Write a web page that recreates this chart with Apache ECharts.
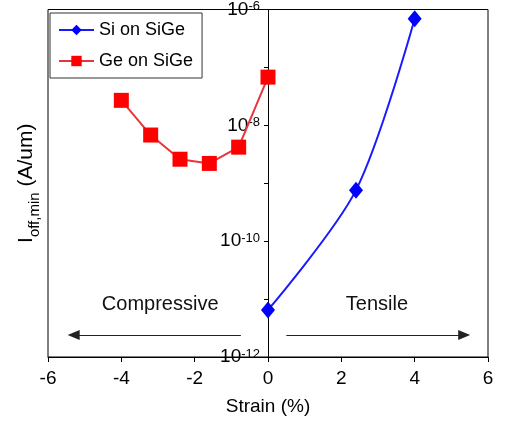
<!DOCTYPE html>
<html>
<head>
<meta charset="utf-8">
<script src="https://cdn.jsdelivr.net/npm/echarts@6/dist/echarts.min.js"></script>
<style>
  html, body { margin: 0; padding: 0; background: #fff; }
  #chart { width: 506px; height: 425px; }
</style>
</head>
<body>
<div id="chart"></div>
<script>
const myChart = echarts.init(document.getElementById("chart"));

// strain (%) vs minimum off-current (A/um)
const siStrain = [0, 2.4, 4];
const siIoff = [6.5e-12, 7.6e-10, 6.9e-7];
const geStrain = [-4, -3.2, -2.4, -1.6, -0.8, 0];
const geIoff = [2.7e-8, 6.8e-9, 2.6e-9, 2.2e-9, 4.2e-9, 6.8e-8];
const xTicks = [-6, -4, -2, 0, 2, 4, 6];

// annotation arrows and texts (data coords)
const arrowY = 2.4e-12;
const compressiveArrow = [-0.74, -5.3];
const tensileArrow = [0.5, 5.35];
const notes = [
    {name: "Compressive", x: -2.94, y: 8.1e-12},
    {name: "Tensile", x: 2.97, y: 8.1e-12}
];

const font = "Liberation Sans, Arial, sans-serif";
const gridLeft = 48;
const gridWidth = 440;

const option = {
    animation: false,
    textStyle: {
        fontFamily: font,
        color: "#000"
    },
    grid: {
        left: gridLeft,
        width: gridWidth,
        top: 8,
        bottom: 68,
        show: true,
        borderColor: "#000",
        borderWidth: 1
    },
    legend: {
        orient: "vertical",
        left: 50,
        top: 13,
        padding: [8, 9, 8, 8],
        itemGap: 13,
        itemWidth: 35,
        itemHeight: 13,
        backgroundColor: "#fff",
        borderColor: "#333",
        borderWidth: 1,
        textStyle: {
            fontSize: 18,
            color: "#000",
            fontFamily: font
        },
        data: ["Si on SiGe", "Ge on SiGe"]
    },
    xAxis: {
        type: "value",
        min: -6,
        max: 6,
        interval: 2,
        name: "Strain (%)",
        nameLocation: "middle",
        nameGap: 40,
        nameTextStyle: {
            fontSize: 19,
            color: "#000"
        },
        axisLine: {
            lineStyle: {color: "#000"}
        },
        axisTick: {
            length: 5,
            lineStyle: {color: "#000"}
        },
        axisLabel: {
            fontSize: 19,
            color: "#000",
            margin: 12,
            formatter: function(v) {
                return xTicks.indexOf(v) >= 0 ? String(v) : "";
            }
        },
        splitLine: {show: false}
    },
    yAxis: [{
        type: "log",
        logBase: 10,
        min: 1e-12,
        max: 1e-6,
        splitNumber: 6,
        position: "left",
        // sit the log axis on strain = 0
        offset: -gridWidth / 2,
        axisLine: {
            onZero: false,
            lineStyle: {color: "#000"}
        },
        axisTick: {
            length: 4,
            lineStyle: {color: "#000"}
        },
        axisLabel: {
            margin: 8,
            formatter: function(v) {
                const e = Math.round(Math.log10(v));
                if (e % 2 !== 0) {
                    return "";
                }
                return "{b|10}{s|" + e + "}";
            },
            rich: {
                b: {fontSize: 19, lineHeight: 19, verticalAlign: "bottom", color: "#000", fontFamily: font},
                s: {fontSize: 13, lineHeight: 13, verticalAlign: "top", padding: [0, 0, 8, 0], color: "#000", fontFamily: font}
            }
        },
        splitLine: {show: false}
    }, {
        type: "value",
        position: "left",
        min: 0,
        max: 1,
        name: "{m|I}{sub|off,min}{m| (A/um)}",
        nameLocation: "middle",
        nameRotate: 90,
        nameGap: 6,
        nameTextStyle: {
            rich: {
                m: {fontSize: 21, lineHeight: 21, verticalAlign: "top", color: "#000", fontFamily: font},
                sub: {fontSize: 15, lineHeight: 26, verticalAlign: "bottom", color: "#000", fontFamily: font}
            }
        },
        axisLine: {show: false, onZero: false},
        axisTick: {show: false},
        axisLabel: {show: false},
        splitLine: {show: false}
    }],
    series: [{
        name: "Si on SiGe",
        type: "line",
        smooth: 0.3,
        symbol: "diamond",
        symbolSize: [14, 17],
        itemStyle: {color: "#0000ff"},
        lineStyle: {color: "#1a1aff", width: 2},
        data: siStrain.map((x, i) => [x, siIoff[i]]),
        markLine: {
            silent: true,
            symbol: ["none", "triangle"],
            symbolSize: [10, 12],
            label: {show: false},
            lineStyle: {color: "#222", width: 1, type: "solid"},
            data: [
                [{coord: [compressiveArrow[0], arrowY]}, {coord: [compressiveArrow[1], arrowY]}],
                [{coord: [tensileArrow[0], arrowY]}, {coord: [tensileArrow[1], arrowY]}]
            ]
        },
        markPoint: {
            silent: true,
            symbol: "circle",
            symbolSize: 1,
            itemStyle: {color: "rgba(0,0,0,0)"},
            label: {
                show: true,
                position: "inside",
                fontSize: 20,
                color: "#111",
                fontFamily: font,
                formatter: p => p.name
            },
            data: notes.map(n => ({name: n.name, coord: [n.x, n.y]}))
        }
    }, {
        name: "Ge on SiGe",
        type: "line",
        symbol: "rect",
        symbolSize: 15,
        itemStyle: {color: "#ff0000"},
        lineStyle: {color: "#e8343c", width: 2},
        data: geStrain.map((x, i) => [x, geIoff[i]])
    }]
};

option && myChart.setOption(option);
</script>
</body>
</html>
